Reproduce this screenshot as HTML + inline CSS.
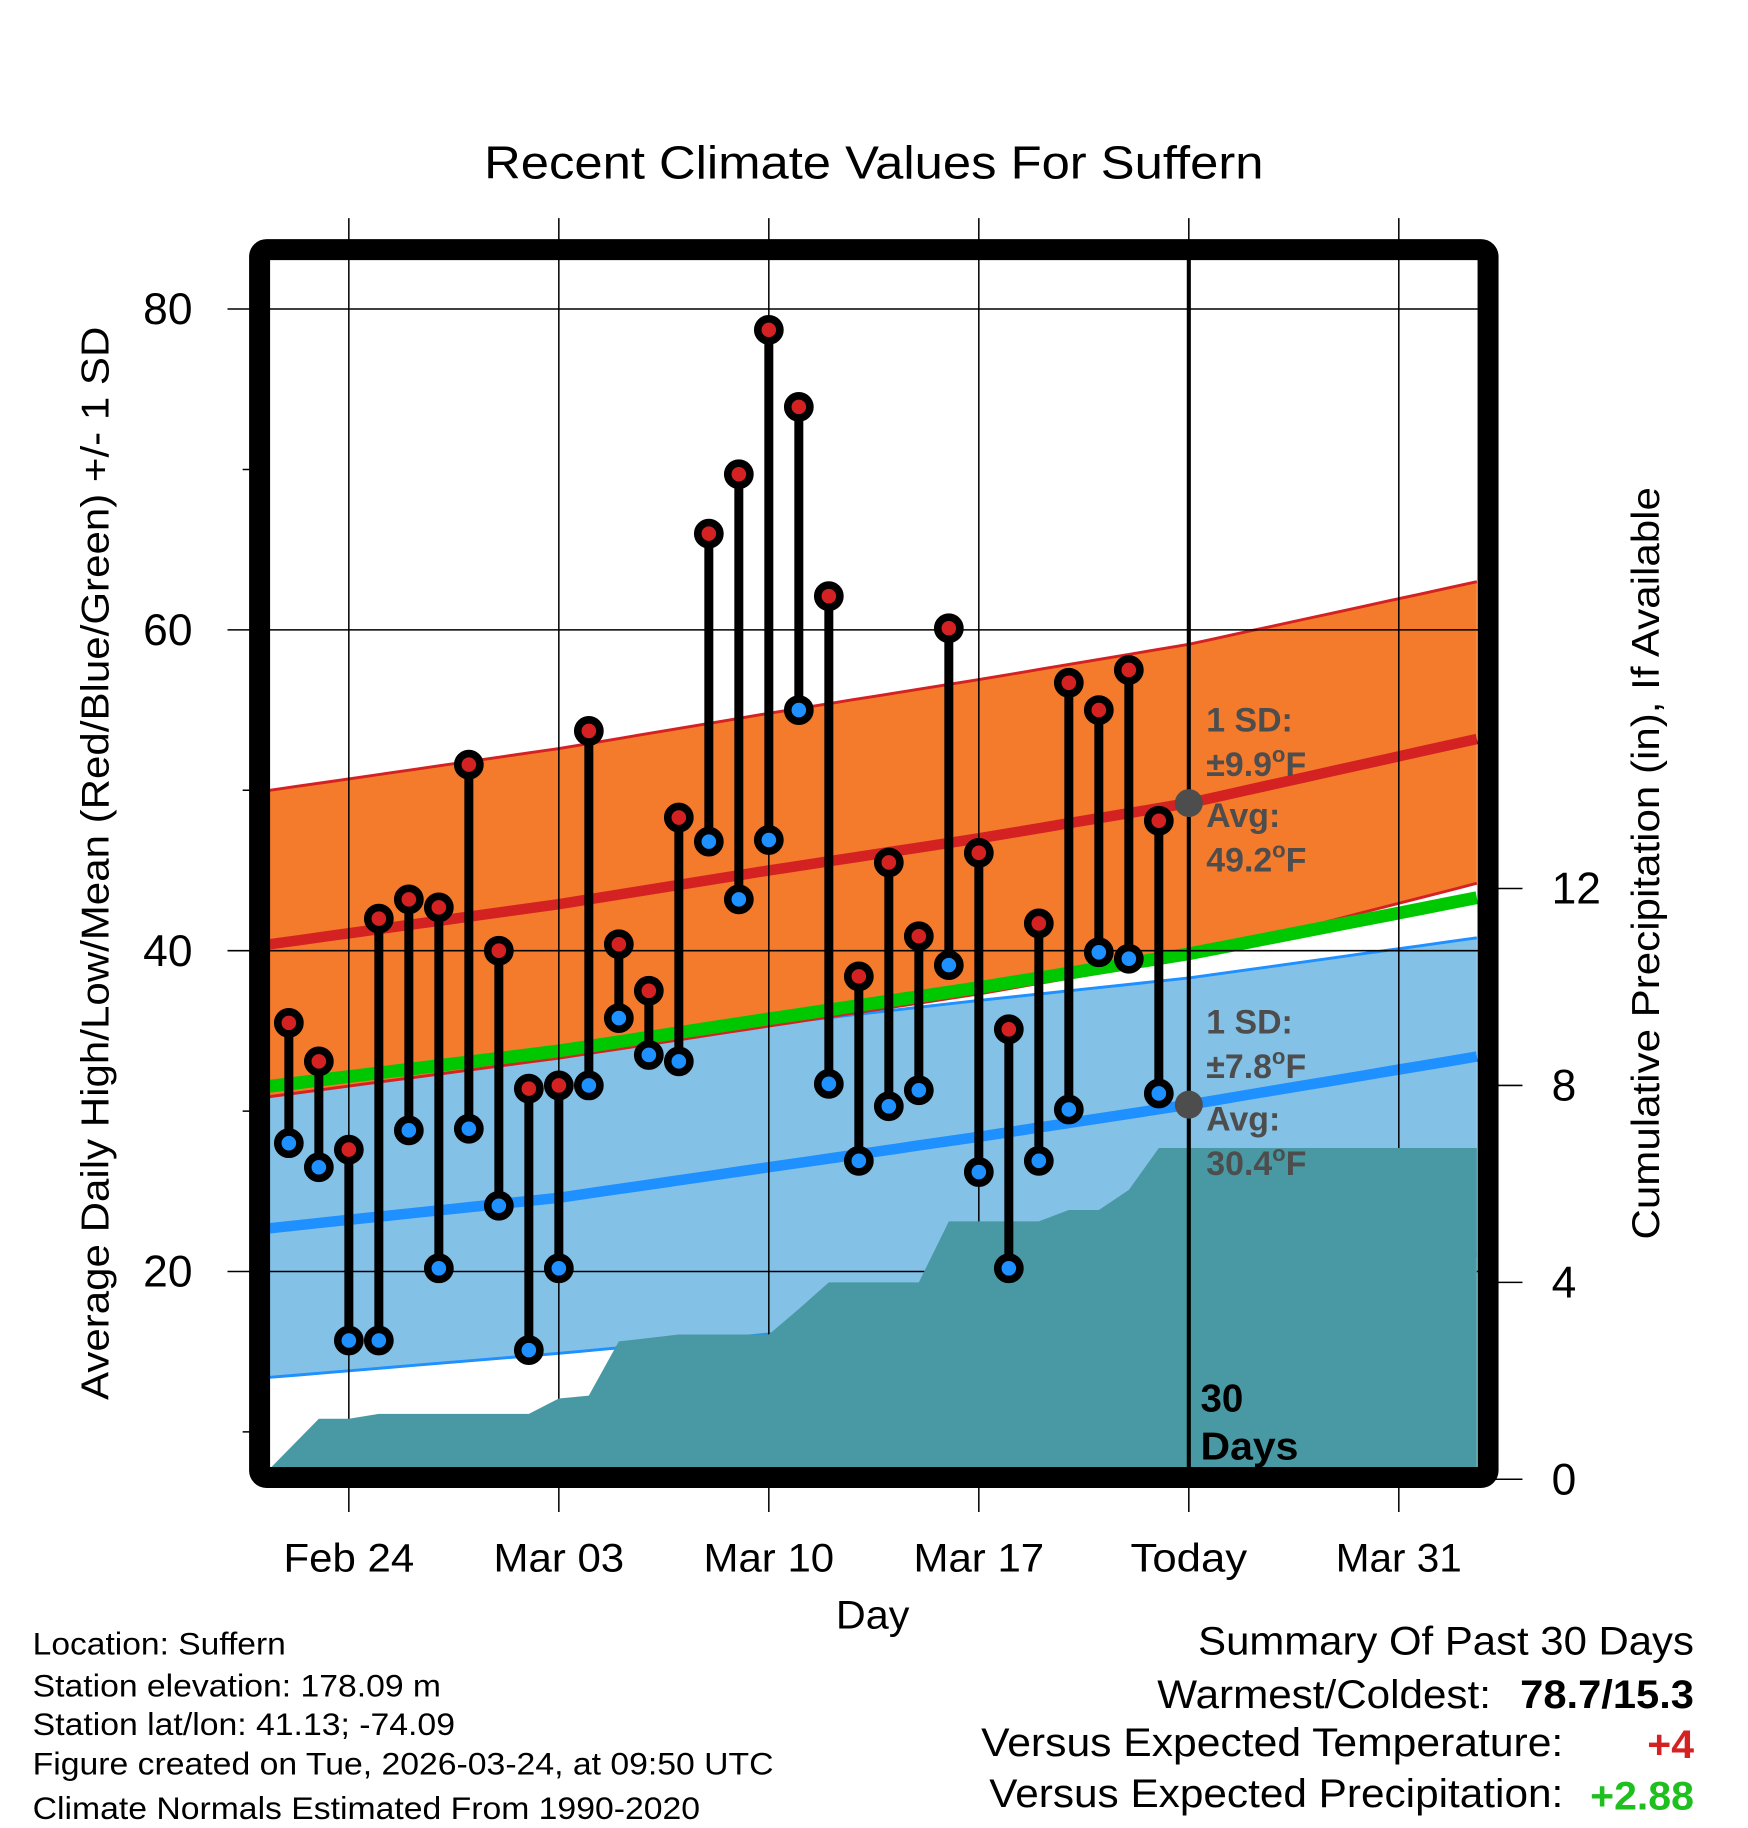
<!DOCTYPE html>
<html><head><meta charset="utf-8"><style>html,body{margin:0;padding:0;background:#fff}svg{display:block}text{font-family:"Liberation Sans",sans-serif}</style></head>
<body>
<svg id="chart" xmlns="http://www.w3.org/2000/svg" width="1748" height="1828" viewBox="0 0 1498.3 1566.9">
<defs><clipPath id="plotclip"><rect x="231" y="222" width="1036" height="1037"/></clipPath></defs>
<g id="bands" clip-path="url(#plotclip)"></g>
<g id="grid"></g>
<g id="teal" clip-path="url(#plotclip)"></g>
<g id="marks"></g>
<g id="frame"></g>
<g id="labels"></g>
</svg>
<script>
// ---- data ----
const dayOffsets = [-2,-1,0,1,2,3,4,5,6,7,8,9,10,11,12,13,14,15,16,17,18,19,20,21,22,23,24,25,26,27];
const highs = [35.5,33.1,27.6,42.0,43.2,42.7,51.6,40.0,31.4,31.6,53.7,40.4,37.5,48.3,66.0,69.7,78.7,73.9,62.1,38.4,45.5,40.9,60.1,46.1,35.1,41.7,56.7,55.0,57.5,48.1];
const lows = [28.0,26.5,15.7,15.7,28.8,20.2,28.9,24.1,15.1,20.2,31.6,35.8,33.5,33.1,46.8,43.2,46.9,55.0,31.7,26.9,30.3,31.3,39.1,26.2,20.2,26.9,30.1,39.9,39.5,31.1];
const precipDays = [-2.64,-1,0,1,6,7,8,9,10,11,14,15,16,19,20,23,24,25,26,27,37.6];
const precipCum = [0.21,1.23,1.23,1.33,1.33,1.64,1.70,2.80,2.87,2.94,2.94,3.46,4.0,4.0,5.24,5.24,5.47,5.47,5.88,6.73,6.73];
const normDays = [-2.64,7,14,21,28,37.6];
const normHigh = [40.4,42.9,45.0,47.0,49.2,53.2];
const normLow = [22.7,24.6,26.5,28.4,30.4,33.4];
const highBandUpper = [50.0,52.6,54.8,56.9,59.1,63.0];
const highBandLower = [30.9,33.3,35.3,37.3,39.6,44.2];
const lowBandUpper = [31.0,33.4,35.4,36.9,38.3,40.8];
const lowBandLower = [13.4,14.9,16.1,17.5,18.9,21.0];
const tempTicks = [80,60,40,20];
const tempMinor = [70,50,30,10];
const precipTicks = [0,4,8,12];
const xTickDays = [0,7,14,21,28,35];
const xTickLabels = ["Feb 24","Mar 03","Mar 10","Mar 17","Today","Mar 31"];
const todayDay = 28;

// ---- axes ----
const X = d => 299 + d*180/7;
const Y = t => 264.9 + (80 - t)*13.75;
const P = p => 1268 - p*42.2;
const NS = "http://www.w3.org/2000/svg";
function mk(tag, attrs, parent){const e=document.createElementNS(NS,tag);for(const k in attrs)e.setAttribute(k,attrs[k]);parent.appendChild(e);return e;}
const bands=document.getElementById('bands'),grid=document.getElementById('grid'),teal=document.getElementById('teal'),marks=document.getElementById('marks'),frame=document.getElementById('frame'),labels=document.getElementById('labels');

function curve(arr){
  const pts=[];
  for(let i=0;i<normDays.length-1;i++){
    for(let s=0;s<10;s++){const f=s/10;const d=normDays[i]+(normDays[i+1]-normDays[i])*f;const v=arr[i]+(arr[i+1]-arr[i])*f;pts.push([X(d),Y(v)]);}
  }
  const n=normDays.length-1;pts.push([X(normDays[n]),Y(arr[n])]);return pts;
}
const ps=p=>p.map(q=>q[0].toFixed(1)+','+q[1].toFixed(1)).join(' ');
function band(upA,loA,fill,edge,name){
  const up=curve(upA),lo=curve(loA);
  const b=mk('polygon',{points:ps(up.concat(lo.slice().reverse())),fill:fill},bands);
  
  
  const e1=mk('polyline',{points:ps(up),fill:'none',stroke:edge,'stroke-width':2.5},bands);
  
  
  const e2=mk('polyline',{points:ps(lo),fill:'none',stroke:edge,'stroke-width':2.5},bands);
  
  
}
band(lowBandUpper,lowBandLower,'#84c1e7','#1e90ff','low-sd');
band(highBandUpper,highBandLower,'#f47a2c','#d42222','high-sd');
const meanArr=normHigh.map((h,i)=>(h+normLow[i])/2);
let l=mk('polyline',{points:ps(curve(meanArr)),fill:'none',stroke:'#00c800','stroke-width':11},bands);


l=mk('polyline',{points:ps(curve(normHigh)),fill:'none',stroke:'#d42222','stroke-width':9},bands);


l=mk('polyline',{points:ps(curve(normLow)),fill:'none',stroke:'#1e90ff','stroke-width':9},bands);



// grid
tempTicks.forEach(t=>{const g=mk('line',{x1:195,x2:1267,y1:Y(t),y2:Y(t),stroke:'#000','stroke-width':1.3},grid);


const tx=mk('text',{x:165,y:Y(t)+13,'text-anchor':'end','font-size':38},labels);tx.textContent=t;

});
tempMinor.forEach(t=>{const g=mk('line',{x1:208,x2:222,y1:Y(t),y2:Y(t),stroke:'#000','stroke-width':1.3},grid);

});
const xLabelWidths=[112,112,112,112,100,108];
xTickDays.forEach((d,i)=>{const g=mk('line',{x1:X(d),x2:X(d),y1:187,y2:1296,stroke:'#000','stroke-width':1.3},grid);


const tx=mk('text',{x:X(d),y:1347,'text-anchor':'middle','font-size':34,textLength:xLabelWidths[i],lengthAdjust:'spacingAndGlyphs'},labels);tx.textContent=xTickLabels[i];

});
precipTicks.forEach(p=>{const g=mk('line',{x1:1280,x2:1305,y1:P(p),y2:P(p),stroke:'#000','stroke-width':1.3},grid);


const tx=mk('text',{x:1330,y:P(p)+13,'font-size':38},labels);tx.textContent=p;

});

// teal precipitation
{const pts=[[X(precipDays[0]),1272]];precipDays.forEach((d,i)=>pts.push([X(d),P(precipCum[i])]));pts.push([X(precipDays[precipDays.length-1]),1272]);
const t=mk('polygon',{points:ps(pts),fill:'#4899a3'},teal);

}

// today line
{const t=mk('line',{x1:X(todayDay),x2:X(todayDay),y1:214,y2:1266,stroke:'#000','stroke-width':3.5},marks);

}

// stems & markers
dayOffsets.forEach((d,i)=>{
  const s=mk('line',{x1:X(d),x2:X(d),y1:Y(highs[i]),y2:Y(lows[i]),stroke:'#000','stroke-width':7.7},marks);
  
  
});
dayOffsets.forEach((d,i)=>{
  const h=mk('circle',{cx:X(d),cy:Y(highs[i]),r:9.5,fill:'#d42222',stroke:'#000','stroke-width':6.5},marks);
  
  
  const lo=mk('circle',{cx:X(d),cy:Y(lows[i]),r:9.5,fill:'#1e90ff',stroke:'#000','stroke-width':6.5},marks);
  
  
});
// today avg dots
{const i=normDays.indexOf(todayDay);
let c=mk('circle',{cx:X(todayDay),cy:Y(normHigh[i]),r:12,fill:'#4d4d4d'},marks);


c=mk('circle',{cx:X(todayDay),cy:Y(normLow[i]),r:12,fill:'#4d4d4d'},marks);

}

// frame
{const f=mk('rect',{x:222.5,y:214,width:1053,height:1052.5,rx:6,fill:'none',stroke:'#000','stroke-width':18},frame);

}
</script>
<script>
// static text
const T=[
 ['chart-title',749,153,'middle',40,'normal','#000','Recent Climate Values For Suffern',668],
 ['sd-high-label',1034,627,'start',29,'bold','#4d4d4d','1 SD:',null],
 ['avg-high-label',1034,709,'start',29,'bold','#4d4d4d','Avg:',null],
 ['sd-low-label',1034,886,'start',29,'bold','#4d4d4d','1 SD:',null],
 ['avg-low-label',1034,969,'start',29,'bold','#4d4d4d','Avg:',null],
 ['days-label-30',1029,1210,'start',33,'bold','#000','30',null],
 ['days-label',1029,1251,'start',33,'bold','#000','Days',84],
 ['x-axis-title',748,1396,'middle',34,'normal','#000','Day',63],
 ['location-text',28,1418,'start',27,'normal','#000','Location: Suffern',217],
 ['elevation-text',28,1454,'start',27,'normal','#000','Station elevation: 178.09 m',350],
 ['latlon-text',28,1487,'start',27,'normal','#000','Station lat/lon: 41.13; -74.09',362],
 ['created-text',28,1521,'start',27,'normal','#000','Figure created on Tue, 2026-03-24, at 09:50 UTC',635],
 ['normals-text',28,1559,'start',27,'normal','#000','Climate Normals Estimated From 1990-2020',572],
 ['summary-title',1452,1418,'end',34,'normal','#000','Summary Of Past 30 Days',425],
 ['warmest-label',1278,1464,'end',34,'normal','#000','Warmest/Coldest:',286],
 ['warmest-value',1452,1464,'end',34,'bold','#000','78.7/15.3',149],
 ['temp-vs-label',1340,1505,'end',34,'normal','#000','Versus Expected Temperature:',499],
 ['temp-vs-value',1452,1507,'end',34,'bold','#d42222','+4',40],
 ['precip-vs-label',1340,1549,'end',34,'normal','#000','Versus Expected Precipitation:',492],
 ['precip-vs-value',1452,1551,'end',34,'bold','#1fbf1f','+2.88',89]
];
const NS2="http://www.w3.org/2000/svg";
const lab=document.getElementById('labels');
T.forEach(r=>{const e=document.createElementNS(NS2,'text');
e.setAttribute('x',r[1]);e.setAttribute('y',r[2]);e.setAttribute('text-anchor',r[3]);e.setAttribute('font-size',r[4]);e.setAttribute('font-weight',r[5]);e.setAttribute('fill',r[6]);
if(r[8]){e.setAttribute('textLength',r[8]);e.setAttribute('lengthAdjust','spacingAndGlyphs');}
e.textContent=r[7];


lab.appendChild(e);});
function deg(name,x,y,pre,post,color){const e=document.createElementNS(NS2,'text');
e.setAttribute('x',x);e.setAttribute('y',y);e.setAttribute('font-size',29);e.setAttribute('font-weight','bold');e.setAttribute('fill',color);
e.appendChild(document.createTextNode(pre));const s=document.createElementNS(NS2,'tspan');s.setAttribute('dy',-12);s.setAttribute('font-size',19);s.textContent='o';e.appendChild(s);
const s2=document.createElementNS(NS2,'tspan');s2.setAttribute('dy',12);s2.textContent=post;e.appendChild(s2);


lab.appendChild(e);}
deg('sd-high-value',1034,665,'±9.9','F','#4d4d4d');
deg('avg-high-value',1034,747,'49.2','F','#4d4d4d');
deg('sd-low-value',1034,924,'±7.8','F','#4d4d4d');
deg('avg-low-value',1034,1007,'30.4','F','#4d4d4d');
function rot(name,x,y,txt,len){const e=document.createElementNS(NS2,'text');
e.setAttribute('transform','translate('+x+','+y+') rotate(-90)');e.setAttribute('text-anchor','middle');e.setAttribute('font-size',33);
e.setAttribute('textLength',len);e.setAttribute('lengthAdjust','spacingAndGlyphs');e.textContent=txt;


lab.appendChild(e);}
rot('y-axis-title',93,740,'Average Daily High/Low/Mean (Red/Blue/Green) +/- 1 SD',920);
rot('precip-axis-title',1422,740,'Cumulative Precipitation (in), If Available',645);
</script>
</body></html>
